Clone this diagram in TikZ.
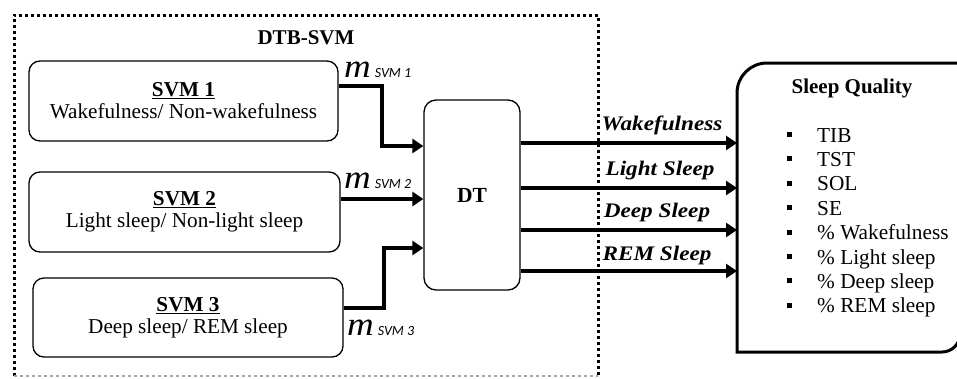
\documentclass[tikz,border=0pt]{standalone}
\usepackage{fontspec}
\setmainfont{Liberation Serif}
\newfontfamily\calib{Carlito}
\newfontfamily\labfont[FakeStretch=1.12]{Liberation Serif}
\usetikzlibrary{arrows.meta,calc}
\newcommand{\sqbul}{\rule[5pt]{5pt}{5pt}}
\newcommand{\msvm}[1]{{\labfont\fontsize{33}{33}\selectfont\itshape m}\hspace{4pt}{\calib\fontsize{14}{14}\selectfont\itshape SVM #1}}
\begin{document}
\begin{tikzpicture}[x=1pt,y=-1pt,
  svmbox/.style={draw,line width=1.3pt,rounded corners=11pt,minimum height=80pt,
    inner sep=0pt,align=center,font=\fontsize{21.2}{22}\selectfont},
  dtbox/.style={draw,line width=1.3pt,rounded corners=12pt,minimum width=96pt,
    minimum height=190pt,inner sep=0pt,font=\fontsize{21.5}{24}\selectfont\bfseries},
  arr/.style={line width=4pt,-{Triangle[length=11pt,width=14pt]}},
  mlab/.style={anchor=base west,inner sep=0pt},
  outlab/.style={anchor=base,inner sep=0pt,font=\labfont\fontsize{20.7}{22}\selectfont\bfseries\itshape},
  frame/.style={line width=3pt,dash pattern=on 3pt off 3pt}]
\useasboundingbox (0,0) rectangle (957,378);
% dotted frame
\draw[frame] (14,376) -- (14,15) -- (598,15) -- (598,376);
\draw[frame,line width=1.5pt,black!35] (14,376) -- (598,376);
\node[font=\fontsize{21}{22}\selectfont\bfseries,inner sep=0pt] (title) at (306,38) {DTB-SVM};
% SVM boxes
\node[svmbox,minimum width=309pt] (svm1) at (183.5,101) {\textbf{\underline{SVM 1}}\\Wakefulness/ Non-wakefulness};
\node[svmbox,minimum width=311pt] (svm2) at (184.5,212) {\textbf{\underline{SVM 2}}\\Light sleep/ Non-light sleep};
\node[svmbox,minimum width=310pt,minimum height=79pt] (svm3) at (188,317.5) {\textbf{\underline{SVM 3}}\\Deep sleep/ REM sleep};
% DT
\node[dtbox] (dt) at (472,195) {DT};
% inputs
\draw[arr] ([yshift=15pt]svm1.east) -- ++(43,0) |- ([yshift=49pt]dt.west);
\draw[arr] ([yshift=13pt]svm2.east) -- ([yshift=-4pt]dt.west);
\draw[arr] ([yshift=9.5pt]svm3.east) -- ++(40,0) |- ([yshift=-53pt]dt.west);
\node[mlab] (m1) at (344,77) {\msvm{1}};
\node[mlab] (m2) at (344,188) {\msvm{2}};
\node[mlab] (m3) at (347,335) {\msvm{3}};
% sleep quality box
\draw[line width=3pt] (965,63) -- (767,63) arc[start angle=270,end angle=180,radius=30]
  -- (737,352) -- (942,352) arc[start angle=90,end angle=0,radius=18] -- (960,40);
\coordinate (w1) at (737,143);
\coordinate (w2) at (737,188);
\coordinate (w3) at (737,230);
\coordinate (w4) at (737,271);
\draw[arr] (dt.east |- w1) -- (w1);
\draw[arr] (dt.east |- w2) -- (w2);
\draw[arr] (dt.east |- w3) -- (w3);
\draw[arr] (dt.east |- w4) -- (w4);
\node[outlab] (l1) at (662,130) {Wakefulness};
\node[outlab] (l2) at (660,175) {Light Sleep};
\node[outlab] (l3) at (657,217) {Deep Sleep};
\node[outlab] (l4) at (657,260) {REM Sleep};
\node[font=\fontsize{21}{22}\selectfont\bfseries,anchor=base,inner sep=0pt] (sq) at (852,93) {Sleep Quality};
\node[anchor=base west,inner sep=0pt,font=\fontsize{21.3}{24.4}\selectfont] (items) at (786.5,142)
 {\begin{tabular}[t]{@{}l@{\hspace{25.5pt}}l@{}}
  \sqbul & TIB\\ \sqbul & TST\\ \sqbul & SOL\\ \sqbul & SE\\
  \sqbul & \% Wakefulness\\ \sqbul & \% Light sleep\\ \sqbul & \% Deep sleep\\ \sqbul & \% REM sleep
 \end{tabular}};
\end{tikzpicture}
\end{document}
